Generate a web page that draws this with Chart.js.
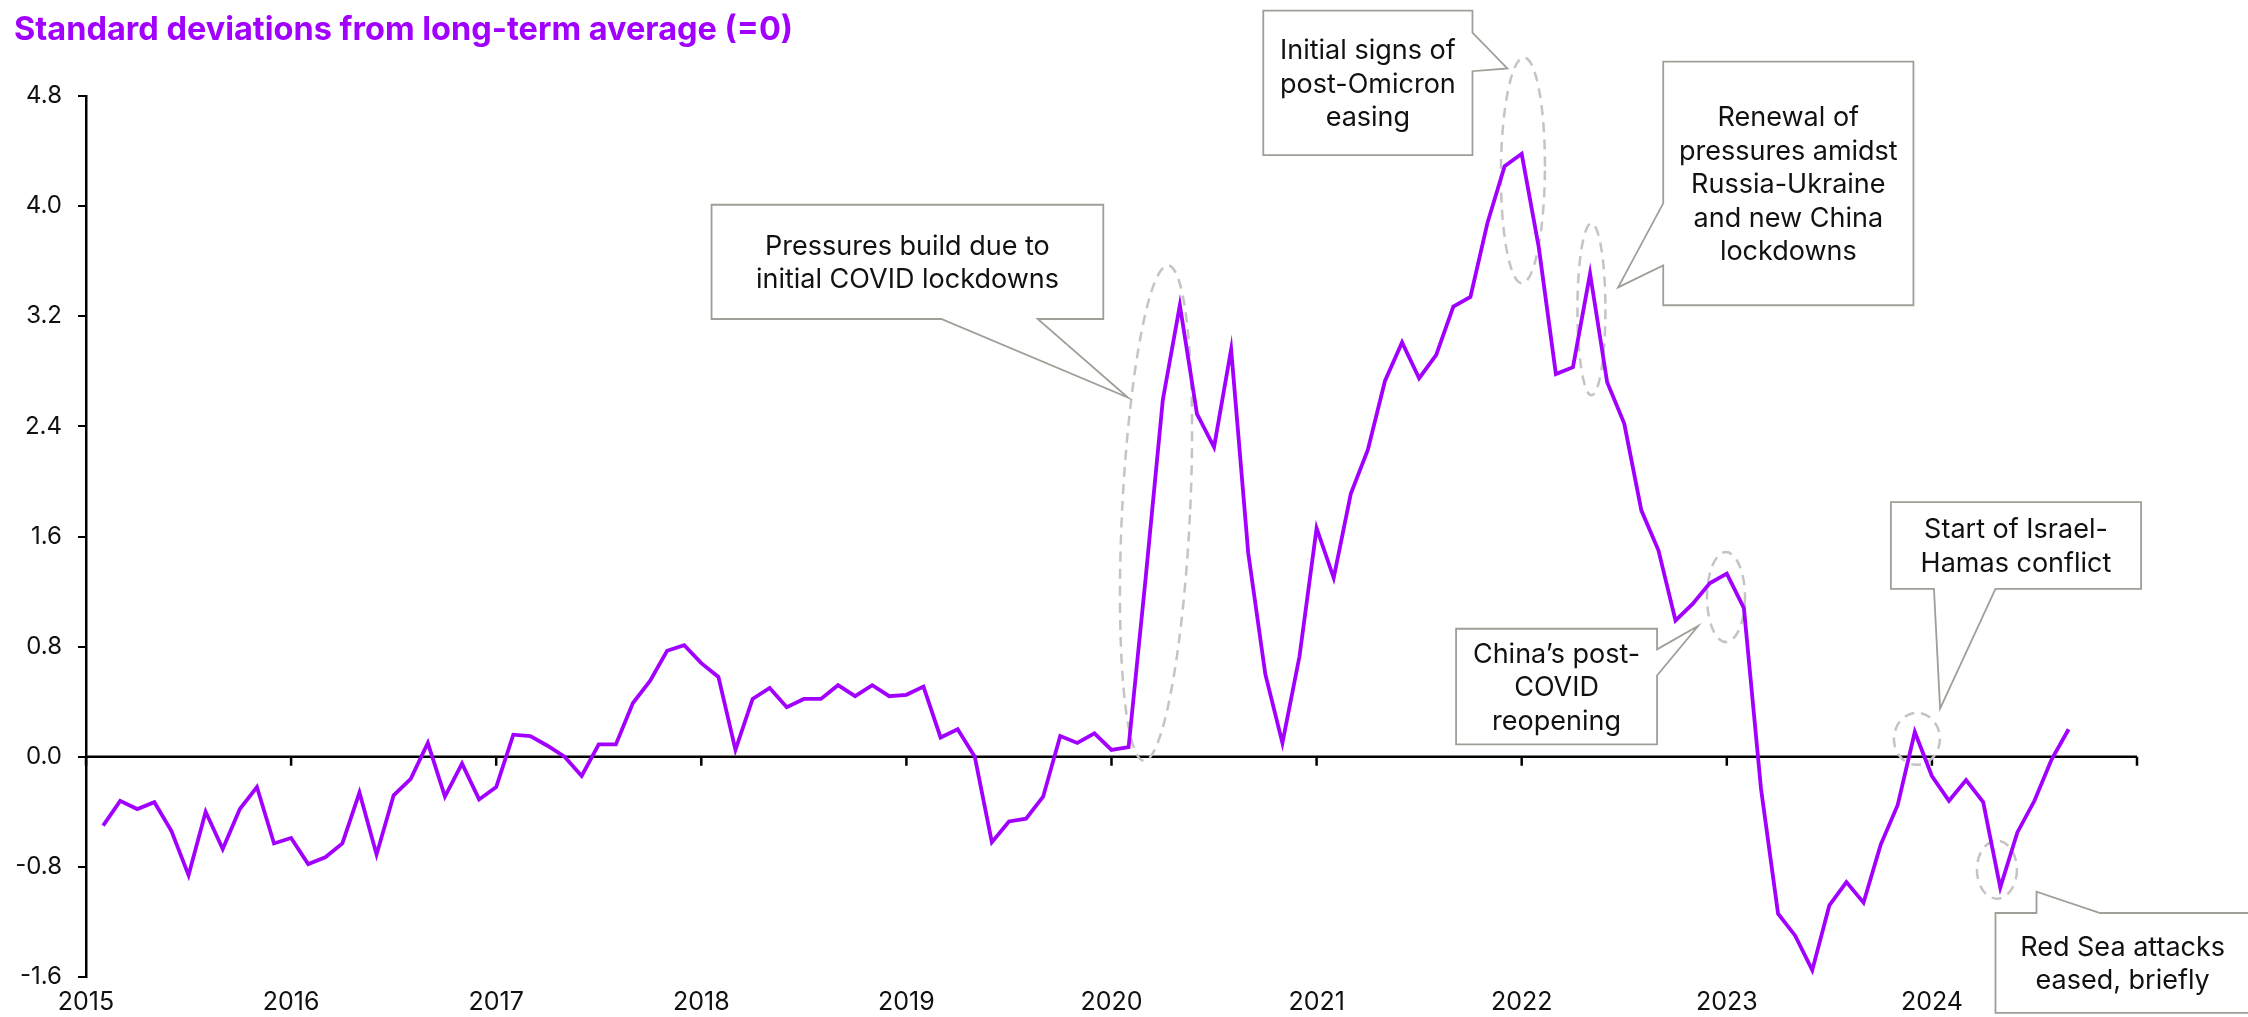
<!DOCTYPE html>
<html>
<head>
<meta charset="utf-8">
<script src="https://cdn.jsdelivr.net/npm/chart.js@4.4.1/dist/chart.umd.min.js"></script>
<style>
    html, body { margin: 0; padding: 0; background: #ffffff; }
    #wrap { width: 2248px; height: 1017px; }
</style>
</head>
<body>
<div id="wrap"><canvas id="pressureChart" width="2248" height="1017"></canvas></div>
<script>
// monthly series, Feb 2015 .. Sep 2024
const startYear = 2015;
const startMonth = 2;
const pressureValues = [
    -0.50, -0.32, -0.38, -0.33, -0.54, -0.86, -0.40, -0.67, -0.38, -0.22, -0.63,
    -0.59, -0.78, -0.73, -0.63, -0.26, -0.71, -0.28, -0.16, 0.10, -0.29, -0.05, -0.31,
    -0.22, 0.16, 0.15, 0.08, 0.00, -0.14, 0.09, 0.09, 0.39, 0.55, 0.77, 0.81,
    0.68, 0.58, 0.05, 0.42, 0.50, 0.36, 0.42, 0.42, 0.52, 0.44, 0.52, 0.44,
    0.45, 0.51, 0.14, 0.20, 0.00, -0.62, -0.47, -0.45, -0.29, 0.15, 0.10, 0.17,
    0.05, 0.07, 1.30, 2.59, 3.28, 2.49, 2.25, 2.96, 1.48, 0.60, 0.10, 0.73,
    1.66, 1.30, 1.91, 2.23, 2.73, 3.01, 2.75, 2.92, 3.27, 3.34, 3.88, 4.29,
    4.38, 3.70, 2.78, 2.83, 3.51, 2.72, 2.42, 1.79, 1.50, 0.99, 1.11, 1.26,
    1.33, 1.08, -0.23, -1.14, -1.30, -1.55, -1.08, -0.91, -1.06, -0.64, -0.35, 0.18,
    -0.14, -0.32, -0.17, -0.33, -0.95, -0.55, -0.32, -0.02, 0.20
];
const yearTicks = [2015, 2016, 2017, 2018, 2019, 2020, 2021, 2022, 2023, 2024, 2025];
const valueTicks = [-1.6, -0.8, 0.0, 0.8, 1.6, 2.4, 3.2, 4.0, 4.8];
const titleText = 'Standard deviations from long-term average (=0)';

// month labels -> fractional years for the linear x scale
const monthLabels = pressureValues.map((_, i) => {
    const m = startMonth - 1 + i;
    return (startYear + Math.floor(m / 12)) + '-' + String(m % 12 + 1).padStart(2, '0');
});
function monthToYear(label) {
    const parts = label.split('-');
    return parseInt(parts[0]) + (parseInt(parts[1]) - 1) / 12;
}

// callouts, anchored in data coordinates (x = year, y = std devs)
const callouts = [
    { lines: ['Pressures build due to', 'initial COVID lockdowns'],
      box: [2018.05, 4.01, 2019.96, 3.18], side: 'bottom', base: [2019.17, 2019.64], tip: [2020.08, 2.61] },
    { lines: ['Initial signs of', 'post-Omicron', 'easing'],
      box: [2020.74, 5.42, 2021.76, 4.37], side: 'right', base: [5.26, 4.98], tip: [2021.93, 5.00] },
    { lines: ['Renewal of', 'pressures amidst', 'Russia-Ukraine', 'and new China', 'lockdowns'],
      box: [2022.69, 5.05, 2023.91, 3.28], side: 'left', base: [4.02, 3.57], tip: [2022.47, 3.41] },
    { lines: ['China\u2019s post-', 'COVID', 'reopening'],
      box: [2021.68, 0.93, 2022.66, 0.09], side: 'right', base: [0.78, 0.59], tip: [2022.86, 0.95] },
    { lines: ['Start of Israel-', 'Hamas conflict'],
      box: [2023.80, 1.85, 2025.02, 1.22], side: 'bottom', base: [2024.01, 2024.31], tip: [2024.04, 0.35] },
    { lines: ['Red Sea attacks', 'eased, briefly'],
      box: [2024.31, -1.135, 2025.62, -1.86], side: 'top', base: [2024.51, 2024.82], tip: [2024.51, -0.98],
      textX: 2024.93 }
];

const highlightRings = [
    { x: 2020.217, y: 1.77, rx: 34, ry: 248, rot: 2.8 },
    { x: 2022.006, y: 4.26, rx: 22, ry: 113, rot: 0.5 },
    { x: 2022.340, y: 3.25, rx: 14, ry: 86, rot: 0 },
    { x: 2022.996, y: 1.16, rx: 19, ry: 45, rot: 0 },
    { x: 2023.927, y: 0.13, rx: 23, ry: 26, rot: 0 },
    { x: 2024.317, y: -0.82, rx: 20, ry: 29, rot: 0 }
];

const textFont = 'Inter, "Noto Sans", Arial, sans-serif';

const zeroAxisPlugin = {
    id: 'zeroAxis',
    beforeDatasetsDraw(chart) {
        const { ctx, chartArea, scales } = chart;
        const y0 = scales.y.getPixelForValue(0);
        ctx.save();
        ctx.strokeStyle = '#000';
        ctx.lineWidth = 2.5;
        ctx.beginPath();
        ctx.moveTo(chartArea.left, y0);
        ctx.lineTo(chartArea.right, y0);
        yearTicks.forEach(yr => {
            const x = scales.x.getPixelForValue(yr);
            ctx.moveTo(x, y0);
            ctx.lineTo(x, y0 + 9);
        });
        ctx.stroke();

        // dashed rings round the highlighted moves
        ctx.strokeStyle = '#c4c4c4';
        ctx.lineWidth = 2.5;
        ctx.setLineDash([10, 7]);
        highlightRings.forEach(r => {
            ctx.beginPath();
            ctx.ellipse(scales.x.getPixelForValue(r.x), scales.y.getPixelForValue(r.y),
                r.rx, r.ry, r.rot * Math.PI / 180, 0, Math.PI * 2);
            ctx.stroke();
        });
        ctx.restore();
    }
};

function calloutPath(ctx, c, sx, sy) {
    const L = sx(c.box[0]), T = sy(c.box[1]), R = sx(c.box[2]), B = sy(c.box[3]);
    const tx = sx(c.tip[0]), ty = sy(c.tip[1]);
    ctx.beginPath();
    ctx.moveTo(L, T);
    if (c.side === 'top') {
        ctx.lineTo(sx(c.base[0]), T); ctx.lineTo(tx, ty); ctx.lineTo(sx(c.base[1]), T);
    }
    ctx.lineTo(R, T);
    if (c.side === 'right') {
        ctx.lineTo(R, sy(c.base[0])); ctx.lineTo(tx, ty); ctx.lineTo(R, sy(c.base[1]));
    }
    ctx.lineTo(R, B);
    if (c.side === 'bottom') {
        ctx.lineTo(sx(c.base[1]), B); ctx.lineTo(tx, ty); ctx.lineTo(sx(c.base[0]), B);
    }
    ctx.lineTo(L, B);
    if (c.side === 'left') {
        ctx.lineTo(L, sy(c.base[1])); ctx.lineTo(tx, ty); ctx.lineTo(L, sy(c.base[0]));
    }
    ctx.closePath();
    return { L, T, R, B };
}

const calloutPlugin = {
    id: 'callouts',
    afterDraw(chart) {
        const { ctx, scales } = chart;
        const sx = v => scales.x.getPixelForValue(v);
        const sy = v => scales.y.getPixelForValue(v);
        ctx.save();
        callouts.forEach(c => {
            const r = calloutPath(ctx, c, sx, sy);
            ctx.fillStyle = '#ffffff';
            ctx.fill();
            ctx.strokeStyle = '#9f9f97';
            ctx.lineWidth = 1.8;
            ctx.stroke();

            const fontSize = 27;
            const lh = 33.5;
            ctx.font = fontSize + 'px ' + textFont;
            ctx.fillStyle = '#111';
            ctx.textAlign = 'center';
            ctx.textBaseline = 'alphabetic';
            const cx = c.textX !== undefined ? sx(c.textX) : (r.L + r.R) / 2;
            const cy = (r.T + r.B) / 2;
            c.lines.forEach((line, i) => {
                const y = cy + (i - (c.lines.length - 1) / 2) * lh + fontSize * 0.36;
                ctx.fillText(line, cx, y);
            });
        });

        // title
        ctx.font = 'bold 32.5px ' + textFont;
        ctx.fillStyle = '#a100ff';
        ctx.textAlign = 'left';
        ctx.fillText(titleText, 14, 40);
        ctx.restore();
    }
};

const chartData = {
    datasets: [{
        label: 'Supply chain pressures',
        data: monthLabels.map((m, i) => ({ x: monthToYear(m), y: pressureValues[i] })),
        borderColor: '#a100ff',
        backgroundColor: 'rgba(0, 0, 0, 0)',
        borderWidth: 3.8,
        pointRadius: 0,
        tension: 0
    }]
};

new Chart(document.getElementById('pressureChart'), {
    type: 'line',
    data: chartData,
    options: {
        responsive: false,
        animation: false,
        devicePixelRatio: 1,
        layout: { padding: { top: 96, right: 111, bottom: 0, left: 0 } },
        plugins: { legend: { display: false }, tooltip: { enabled: false } },
        scales: {
            x: {
                type: 'linear',
                min: 2015,
                max: 2025,
                afterBuildTicks: scale => { scale.ticks = yearTicks.map(v => ({ value: v })); },
                afterFit: scale => { scale.height = 40; },
                grid: { display: false, drawTicks: false },
                border: { display: false },
                ticks: {
                    callback: v => String(v),
                    color: '#111',
                    font: { family: textFont, size: 25 },
                    padding: 10,
                    maxRotation: 0,
                    autoSkip: false
                }
            },
            y: {
                min: -1.6,
                max: 4.8,
                afterBuildTicks: scale => { scale.ticks = valueTicks.map(v => ({ value: v })); },
                afterFit: scale => { scale.width = 86; },
                grid: { drawOnChartArea: false, drawTicks: true, tickLength: 8, color: '#000', lineWidth: 2 },
                border: { display: true, color: '#000', width: 2.5 },
                ticks: {
                    callback: v => v.toFixed(1),
                    color: '#111',
                    font: { family: textFont, size: 24 },
                    padding: 16
                }
            }
        }
    },
    plugins: [zeroAxisPlugin, calloutPlugin]
});
</script>
</body>
</html>
